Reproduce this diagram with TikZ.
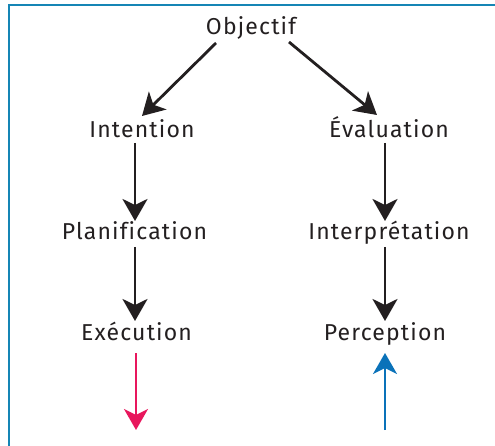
\documentclass[tikz,border=0pt]{standalone}
\usepackage{fontspec}
\setmainfont{Fira Sans}[Ligatures=NoCommon, LetterSpace=5]
\usetikzlibrary{arrows.meta}
\definecolor{frameblue}{HTML}{1585B5}
\definecolor{txt}{HTML}{231F20}
\definecolor{redarr}{HTML}{E8175D}
\definecolor{bluearr}{HTML}{0A72B9}
\tikzset{
  lbl/.style={anchor=base, inner sep=0pt, text=txt, font=\fontsize{23}{27}\selectfont},
  conn/.style={line width=2.8pt, draw=txt, -{Stealth[length=22pt,width=25pt,inset=6pt]}},
  colconn/.style={line width=2.2pt, -{Stealth[length=21pt,width=24pt,inset=6pt]}},
  frame/.style={line width=2.4pt, draw=frameblue}
}
\begin{document}
\begin{tikzpicture}[x=1pt,y=-1pt]
\useasboundingbox (0,0) rectangle (495,446);
\draw[frame] (495,5) -- (9,5) -- (9,446);
\node[lbl] (obj) at (251,35) {Objectif};
\node[lbl] (int) at (142,138) {Intention};
\node[lbl] (eva) at (389,138) {Évaluation};
\node[lbl] (pla) at (134.5,240) {Planification};
\node[lbl] (itp) at (389,240) {Interprétation};
\node[lbl] (exe) at (136.5,340) {Exécution};
\node[lbl] (per) at (385,340) {Perception};
\coordinate (o1) at (216,43);
\coordinate (o2) at (289,42);
\coordinate (t1) at (142,116);
\coordinate (t2) at (377,115);
\coordinate (ra) at (136,353);
\coordinate (rb) at (136,430);
\coordinate (ba) at (385,430);
\coordinate (bb) at (385,353);
\draw[conn] (o1) -- (t1);
\draw[conn] (o2) -- (t2);
\draw[conn] (135,143) -- (135,221);
\draw[conn] (385,143) -- (385,221);
\draw[conn] (135,247) -- (135,321);
\draw[conn] (385,247) -- (385,321);
\draw[colconn, draw=redarr] (ra) -- (rb);
\draw[colconn, draw=bluearr] (ba) -- (bb);
\end{tikzpicture}
\end{document}
